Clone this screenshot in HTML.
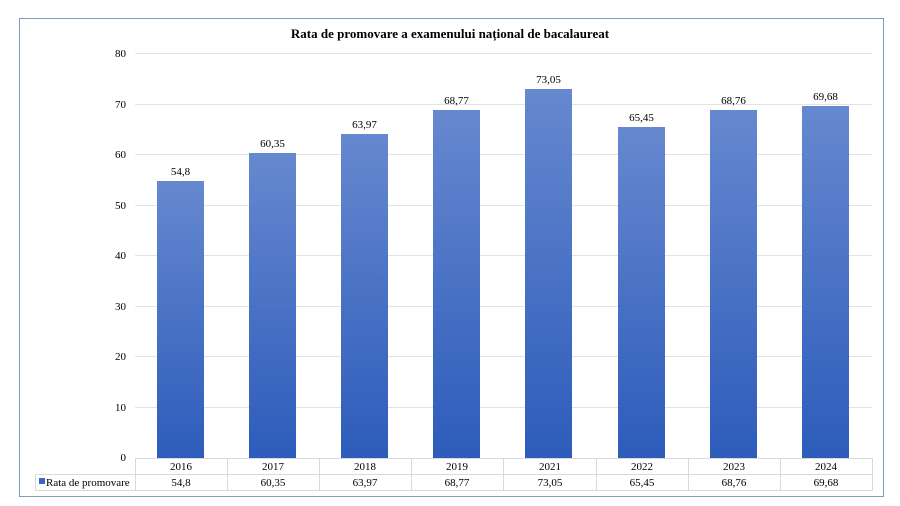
<!DOCTYPE html>
<html><head><meta charset="utf-8"><style>
body{margin:0;background:#fff;}
svg{display:block;font-family:"Liberation Serif",serif;}
</style></head><body>
<svg width="900" height="506" viewBox="0 0 900 506">
<defs><linearGradient id="g" x1="0" y1="0" x2="0" y2="1">
<stop offset="0" stop-color="#6688cf"/><stop offset="1" stop-color="#2d5cbb"/></linearGradient></defs>
<rect x="19.5" y="18.5" width="864" height="478" fill="#fff" stroke="#7f9bbd"/>
<text x="450" y="38" text-anchor="middle" font-size="13" font-weight="bold">Rata de promovare a examenului  național de bacalaureat</text>
<g stroke="#e3e3e3" stroke-width="1">
<line x1="135" x2="872" y1="53.5" y2="53.5"/><line x1="135" x2="872" y1="104.5" y2="104.5"/>
<line x1="135" x2="872" y1="154.5" y2="154.5"/><line x1="135" x2="872" y1="205.5" y2="205.5"/>
<line x1="135" x2="872" y1="255.5" y2="255.5"/><line x1="135" x2="872" y1="306.5" y2="306.5"/>
<line x1="135" x2="872" y1="356.5" y2="356.5"/><line x1="135" x2="872" y1="407.5" y2="407.5"/>
</g>
<g font-size="11" text-anchor="end">
<text x="126" y="57">80</text><text x="126" y="108">70</text><text x="126" y="158">60</text>
<text x="126" y="209">50</text><text x="126" y="259">40</text><text x="126" y="310">30</text>
<text x="126" y="360">20</text><text x="126" y="411">10</text><text x="126" y="461">0</text>
</g>
<g fill="url(#g)">
<rect x="157" y="181" width="47" height="277"/>
<rect x="249" y="153" width="47" height="305"/>
<rect x="341" y="134" width="47" height="324"/>
<rect x="433" y="110" width="47" height="348"/>
<rect x="525" y="89" width="47" height="369"/>
<rect x="618" y="127" width="47" height="331"/>
<rect x="710" y="110" width="47" height="348"/>
<rect x="802" y="106" width="47" height="352"/>
</g>
<g font-size="11" text-anchor="middle">
<text x="180.5" y="175">54,8</text><text x="272.5" y="147">60,35</text><text x="364.5" y="128">63,97</text>
<text x="456.5" y="104">68,77</text><text x="548.5" y="83">73,05</text><text x="641.5" y="121">65,45</text>
<text x="733.5" y="104">68,76</text><text x="825.5" y="100">69,68</text>
</g>
<g stroke="#d9d9d9" fill="none">
<line x1="135" x2="872" y1="458.5" y2="458.5"/>
<line x1="35" x2="872" y1="474.5" y2="474.5"/>
<line x1="35" x2="872" y1="490.5" y2="490.5"/>
<line x1="35.5" x2="35.5" y1="474" y2="491"/>
<line x1="135.5" x2="135.5" y1="458" y2="491"/><line x1="227.5" x2="227.5" y1="458" y2="491"/>
<line x1="319.5" x2="319.5" y1="458" y2="491"/><line x1="411.5" x2="411.5" y1="458" y2="491"/>
<line x1="503.5" x2="503.5" y1="458" y2="491"/><line x1="596.5" x2="596.5" y1="458" y2="491"/>
<line x1="688.5" x2="688.5" y1="458" y2="491"/><line x1="780.5" x2="780.5" y1="458" y2="491"/>
<line x1="872.5" x2="872.5" y1="458" y2="491"/>
</g>
<g font-size="11" text-anchor="middle">
<text x="181" y="470">2016</text><text x="273" y="470">2017</text><text x="365" y="470">2018</text>
<text x="457" y="470">2019</text><text x="550" y="470">2021</text><text x="642" y="470">2022</text>
<text x="734" y="470">2023</text><text x="826" y="470">2024</text>
<text x="181" y="486">54,8</text><text x="273" y="486">60,35</text><text x="365" y="486">63,97</text>
<text x="457" y="486">68,77</text><text x="550" y="486">73,05</text><text x="642" y="486">65,45</text>
<text x="734" y="486">68,76</text><text x="826" y="486">69,68</text>
</g>
<rect x="39" y="478" width="6" height="6" fill="#3d66c0"/>
<text x="46" y="486" font-size="11">Rata de promovare</text>
</svg>
</body></html>
